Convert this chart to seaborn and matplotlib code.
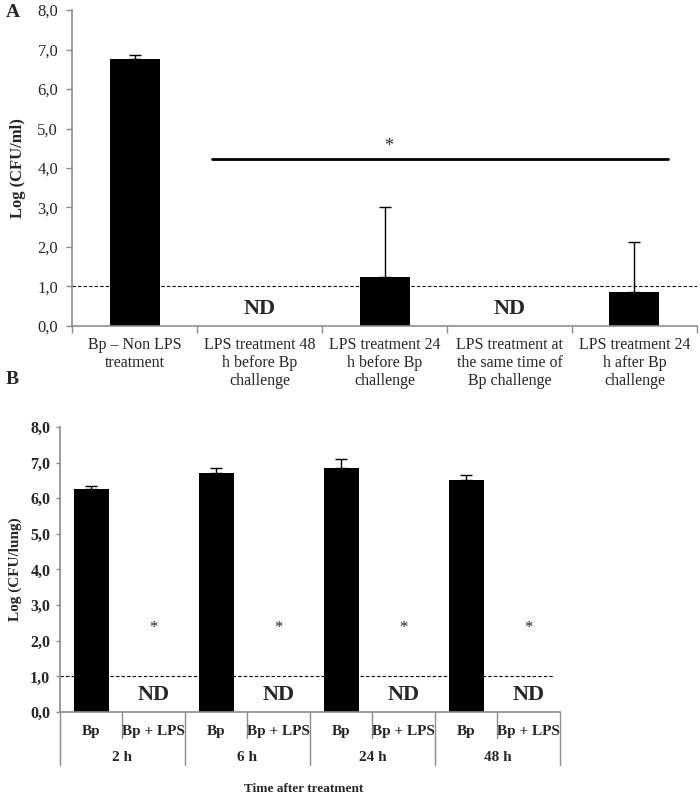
import numpy as np
import pandas as pd
import matplotlib
matplotlib.use("Agg")
import matplotlib.pyplot as plt
import seaborn as sns

# ---- data: panel A ----
a_labels = ["Bp \u2013 Non LPS\ntreatment",
            "LPS treatment 48\nh before Bp\nchallenge",
            "LPS treatment 24\nh before Bp\nchallenge",
            "LPS treatment at\nthe same time of\nBp challenge",
            "LPS treatment 24\nh after Bp\nchallenge"]
a_values = [6.75, 0.0, 1.25, 0.0, 0.85]
a_err = [0.12, 0.0, 1.75, 0.0, 1.28]
a_nd = [False, True, False, True, False]

# ---- data: panel B ----
b_times = ["2 h", "6 h", "24 h", "48 h"]
b_groups = ["Bp", "Bp + LPS"]
b_bp = [6.25, 6.72, 6.85, 6.52]
b_bp_err = [0.10, 0.13, 0.25, 0.13]

ytick_vals = [0, 1, 2, 3, 4, 5, 6, 7, 8]
ytick_labels = ["0,0", "1,0", "2,0", "3,0", "4,0", "5,0", "6,0", "7,0", "8,0"]

sns.set_theme(style="white")
plt.rcParams["font.family"] = ["Liberation Serif", "DejaVu Serif"]
grey = "#8c8c8c"

fig = plt.figure(figsize=(7.0, 7.96), dpi=100)

# ================= Panel A =================
ax1 = fig.add_axes([0.1029, 0.5905, 0.8928, 0.3969])
dfa = pd.DataFrame({"cond": a_labels, "val": a_values})
sns.barplot(data=dfa, x="cond", y="val", color="black", width=0.4,
            saturation=1, ax=ax1, errorbar=None, linewidth=0)
xa = np.arange(len(a_labels))
# error bars only for detected groups
det = [i for i, nd in enumerate(a_nd) if not nd]
ax1.errorbar(xa[det], np.array(a_values)[det],
             yerr=[np.zeros(len(det)), np.array(a_err)[det]], fmt="none",
             ecolor="black", elinewidth=1, capsize=4, capthick=1)
ax1.set_xlim(-0.5, len(a_labels) - 0.5)
ax1.set_ylim(0, 8)
ax1.axhline(1.0, color="black", lw=0.8, ls=(0, (3, 2)), zorder=0)
for i, nd in enumerate(a_nd):
    if nd:
        ax1.text(i, 0.42, "ND", ha="center", va="center", fontsize=16,
                 fontweight="bold")
ax1.plot([0.62, 4.27], [4.23, 4.23], color="black", lw=2)
ax1.text(2.03, 4.55, "*", ha="center", va="center", fontsize=13)

ax1.set_yticks(ytick_vals)
ax1.set_yticklabels(ytick_labels, fontsize=12)
ax1.set_xticks(xa)
ax1.set_xticklabels(a_labels, fontsize=11.5, linespacing=1.15)
ax1.set_xticks(np.arange(len(a_labels) + 1) - 0.5, minor=True)
ax1.tick_params(axis="x", which="major", length=0, pad=8)
ax1.tick_params(axis="x", which="minor", length=5, color=grey, width=1,
                direction="out", bottom=True)
ax1.tick_params(axis="y", length=4, color=grey, width=1, direction="out",
                left=True, pad=6)
ax1.set_xlabel("")
ax1.set_ylabel("Log (CFU/ml)", fontsize=12, fontweight="bold", labelpad=8)
for s in ["top", "right"]:
    ax1.spines[s].set_visible(False)
for s in ["left", "bottom"]:
    ax1.spines[s].set_color(grey)
    ax1.spines[s].set_linewidth(1.2)

# ================= Panel B =================
ax2 = fig.add_axes([0.0857, 0.1055, 0.7143, 0.3581])
rows = []
for t, v in zip(b_times, b_bp):
    rows.append({"key": f"{t}|Bp", "val": v})
    rows.append({"key": f"{t}|Bp + LPS", "val": 0.0})
dfb = pd.DataFrame(rows)
sns.barplot(data=dfb, x="key", y="val", color="black", width=0.56,
            saturation=1, ax=ax2, errorbar=None, linewidth=0)
xb = np.arange(len(dfb))
bp_x = xb[0::2]
ax2.errorbar(bp_x, b_bp, yerr=[np.zeros(len(b_bp_err)), b_bp_err],
             fmt="none", ecolor="black", elinewidth=1, capsize=4, capthick=1)
ax2.set_xlim(-0.5, len(dfb) - 0.5)
ax2.set_ylim(0, 8)
ax2.plot([-0.5, 7.39], [1.0, 1.0], color="black", lw=0.8, ls=(0, (3, 2)),
         zorder=0)
for x in xb[1::2]:
    ax2.text(x, 0.48, "ND", ha="center", va="center", fontsize=16,
             fontweight="bold")
    ax2.text(x, 2.36, "*", ha="center", va="center", fontsize=12)

ax2.set_yticks(ytick_vals)
ax2.set_yticklabels(ytick_labels, fontsize=11.5, fontweight="bold")
ax2.tick_params(axis="y", length=3, color=grey, width=1, direction="out",
                left=True, pad=4)
ax2.set_xticks([])
ax2.set_xlabel("")
ax2.set_ylabel("Log (CFU/lung)", fontsize=11, fontweight="bold", labelpad=6)

trans = ax2.get_xaxis_transform()
for i, key in enumerate(dfb["key"]):
    grp = key.split("|")[1]
    ax2.text(i, -0.067, grp, transform=trans, ha="center", va="center",
             fontsize=11, fontweight="bold")
for j, t in enumerate(b_times):
    ax2.text(2 * j + 0.5, -0.158, t, transform=trans, ha="center",
             va="center", fontsize=11, fontweight="bold")
    ax2.plot([2 * j + 0.5] * 2, [0, -0.09], transform=trans, color=grey,
             lw=1, clip_on=False)
for j in range(len(b_times) + 1):
    ax2.plot([2 * j - 0.5] * 2, [0, -0.186], transform=trans, color=grey,
             lw=1, clip_on=False)
ax2.text(3.4, -0.27, "Time after treatment", transform=trans, ha="center",
         va="center", fontsize=9.5, fontweight="bold")
for s in ["top", "right"]:
    ax2.spines[s].set_visible(False)
for s in ["left", "bottom"]:
    ax2.spines[s].set_color(grey)
    ax2.spines[s].set_linewidth(1.2)

fig.text(0.008, 0.984, "A", fontsize=14, fontweight="bold", va="center")
fig.text(0.008, 0.523, "B", fontsize=14, fontweight="bold", va="center")

fig.savefig("out.png", dpi=100)
